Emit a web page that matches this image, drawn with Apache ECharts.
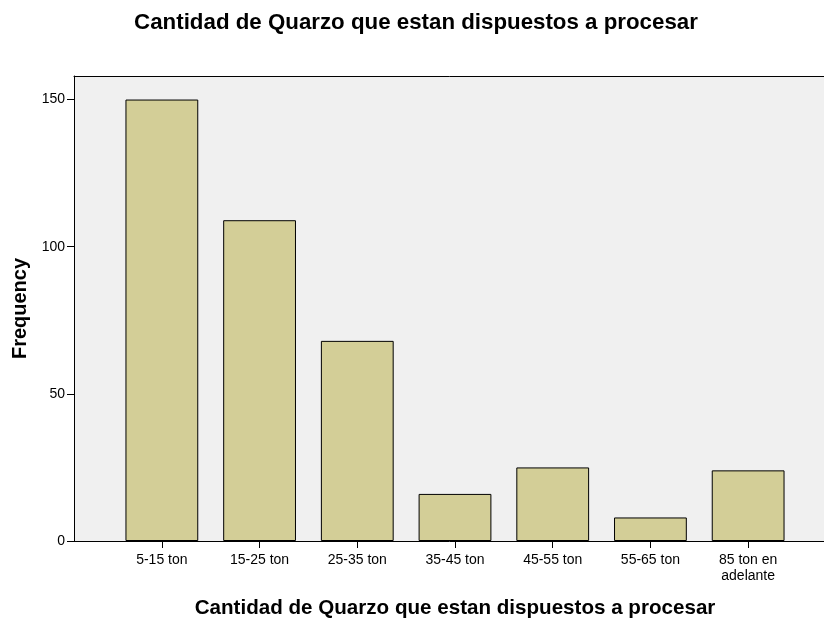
<!DOCTYPE html>
<html>
<head>
<meta charset="utf-8">
<script src="https://cdn.jsdelivr.net/npm/echarts@6/dist/echarts.min.js"></script>
<style>
  html, body { margin: 0; padding: 0; background: #fff; }
  #chart { width: 824px; height: 620px; }
</style>
</head>
<body>
<div id="chart"></div>
<script>
// datos
const categories = ['5-15 ton', '15-25 ton', '25-35 ton', '35-45 ton', '45-55 ton', '55-65 ton', '85 ton en\nadelante'];
const frequency = [150, 109, 68, 16, 25, 8, 24];
const yTicks = [0, 50, 100, 150];

const titleText = 'Cantidad de Quarzo que estan dispuestos a procesar';
const font = 'Liberation Sans, Arial, sans-serif';

const chart = echarts.init(document.getElementById('chart'));

const option = {
  animation: false,
  title: {
    text: titleText,
    left: 411,
    textAlign: 'center',
    top: 7,
    textStyle: { fontFamily: font, fontSize: 22.3, fontWeight: 'bold', color: '#000' }
  },
  grid: [
    // marco con fondo gris
    { left: 74, right: -2, top: 76, bottom: 79, show: true, backgroundColor: '#f0f0f0', borderWidth: 0, outerBoundsMode: 'none' },
    // zona de barras
    { left: 113, right: 27, top: 76, bottom: 79, outerBoundsMode: 'none' }
  ],
  xAxis: [
    {
      gridIndex: 0, type: 'value', position: 'bottom', min: 0, max: 1,
      axisLine: { show: true, lineStyle: { color: '#000', width: 1 } },
      axisTick: { show: false }, axisLabel: { show: false }, splitLine: { show: false }
    },
    {
      gridIndex: 0, type: 'value', position: 'top', min: 0, max: 1,
      axisLine: { show: true, lineStyle: { color: '#000', width: 1 } },
      axisTick: { show: false }, axisLabel: { show: false }, splitLine: { show: false }
    },
    {
      gridIndex: 1, type: 'category', data: categories,
      boundaryGap: true,
      axisLine: { show: false },
      axisTick: { show: true, alignWithLabel: true, length: 7, lineStyle: { color: '#000' } },
      axisLabel: { fontFamily: font, fontSize: 14, color: '#000', margin: 11, interval: 0, lineHeight: 16 },
      name: titleText,
      nameLocation: 'middle',
      nameGap: 57,
      nameTextStyle: { fontFamily: font, fontSize: 20.6, fontWeight: 'bold', color: '#000' }
    }
  ],
  yAxis: [
    {
      gridIndex: 0, type: 'value', min: 0, max: 158,
      axisLine: { show: true, lineStyle: { color: '#000', width: 1 } },
      axisTick: { show: true, length: 7, customValues: yTicks, lineStyle: { color: '#000' } },
      axisLabel: { customValues: yTicks, fontFamily: font, fontSize: 14, color: '#000', margin: 9 },
      splitLine: { show: false },
      name: 'Frequency',
      nameLocation: 'middle',
      nameGap: 39,
      nameTextStyle: { fontFamily: font, fontSize: 20, fontWeight: 'bold', color: '#000' }
    },
    {
      gridIndex: 1, type: 'value', min: 0, max: 158, show: false
    }
  ],
  series: [
    {
      type: 'bar',
      xAxisIndex: 2,
      yAxisIndex: 1,
      data: frequency,
      barWidth: '74.5%',
      itemStyle: { color: '#d3ce97', borderColor: '#000', borderWidth: 1 }
    }
  ]
};

chart.setOption(option);
</script>
</body>
</html>
